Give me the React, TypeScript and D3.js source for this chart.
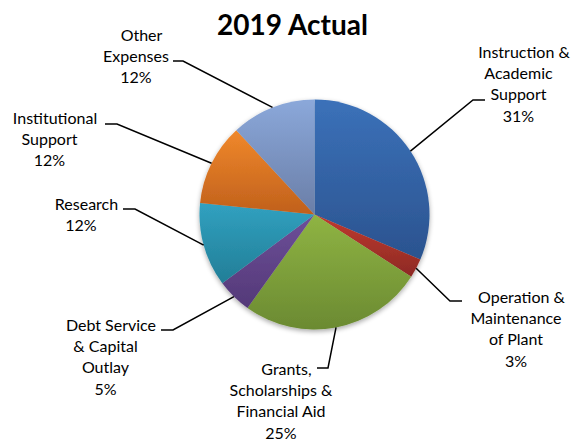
import React from "react";
import * as d3 from "d3";

const categories = [
  "Instruction & Academic Support",
  "Operation & Maintenance of Plant",
  "Grants, Scholarships & Financial Aid",
  "Debt Service & Capital Outlay",
  "Research",
  "Institutional Support",
  "Other Expenses",
];
const values = [31.4, 2.7, 25.8, 4.9, 11.8, 11.5, 11.9];
const labelLines = [
  ["Instruction &", "Academic", "Support", "31%"],
  ["Operation &", "Maintenance", "of Plant", "3%"],
  ["Grants,", "Scholarships &", "Financial Aid", "25%"],
  ["Debt Service", "& Capital", "Outlay", "5%"],
  ["Research", "12%"],
  ["Institutional", "Support", "12%"],
  ["Other", "Expenses", "12%"],
];
const topColors = ["#3b71b9", "#c0392f", "#8fb443", "#6d4f99", "#31a1c0", "#f0882b", "#8ba8da"];
const bottomColors = ["#2b538f", "#8d2a24", "#6b8a32", "#543978", "#227e97", "#c0601c", "#6a7ea7"];

// layout: elbow point, short horizontal end, text center x, first row center y
const layout = [
  { elbow: [473, 100], end: [485, 100], tx: 518.5, ty: 52 },
  { elbow: [450, 301], end: [462, 301], tx: 516, ty: 297 },
  { elbow: [328, 368], end: [317, 368], tx: 281, ty: 369 },
  { elbow: [173, 330], end: [161, 330], tx: 105.5, ty: 325 },
  { elbow: [135, 209], end: [123, 209], tx: 81, ty: 204 },
  { elbow: [117, 124], end: [105, 124], tx: 49.5, ty: 118 },
  { elbow: [183, 61], end: [173, 61], tx: 136, ty: 35 },
];

const W = 578;
const H = 441;
const cx = 314.5;
const cy = 214.5;
const R = 115;
const font = "Lato, 'Open Sans', sans-serif";

export default function App() {
  const pie = d3.pie<number>().sort(null).value((d) => d);
  const arcs = pie(values);
  const arcGen = d3.arc<d3.PieArcDatum<number>>().innerRadius(0).outerRadius(R);
  const edge = d3.arc<d3.PieArcDatum<number>>().innerRadius(R).outerRadius(R);
  const lineGen = d3.line();
  const rowH = 21.3;

  return (
    <svg width={W} height={H} style={{ position: "absolute", left: 0, top: 0, background: "#fff" }}>
      <defs>
        {categories.map((c, i) => (
          <linearGradient key={c} id={`g${i}`} x1="0" y1="0" x2="0" y2="1">
            <stop offset="0" stopColor={topColors[i]} />
            <stop offset="1" stopColor={bottomColors[i]} />
          </linearGradient>
        ))}
        <filter id="sh" x="-20%" y="-20%" width="140%" height="140%">
          <feGaussianBlur in="SourceAlpha" stdDeviation="2.5" />
          <feOffset dx="0" dy="2" result="b" />
          <feComponentTransfer>
            <feFuncA type="linear" slope="0.35" />
          </feComponentTransfer>
          <feMerge>
            <feMergeNode />
            <feMergeNode in="SourceGraphic" />
          </feMerge>
        </filter>
      </defs>
      <text x={292.5} y={35} textAnchor="middle" fontFamily={font} fontWeight="bold" fontSize={28} fill="#000">
        2019 Actual
      </text>
      <g transform={`translate(${cx},${cy})`} filter="url(#sh)">
        {arcs.map((a, i) => (
          <path key={i} d={arcGen(a) || ""} fill={`url(#g${i})`} />
        ))}
      </g>
      {arcs.map((a, i) => {
        const [ex, ey] = edge.centroid(a);
        const L = layout[i];
        const pts: [number, number][] = [
          [cx + ex, cy + ey],
          L.elbow as [number, number],
          L.end as [number, number],
        ];
        return <path key={i} d={lineGen(pts) || ""} fill="none" stroke="#000" strokeWidth={1.5} />;
      })}
      {labelLines.map((lines, i) => (
        <text key={i} textAnchor="middle" fontFamily={font} fontSize={16} fill="#000">
          {lines.map((s, j) => (
            <tspan key={j} x={layout[i].tx + (j === 0 ? 5.5 : 0)} y={layout[i].ty + j * rowH} dy="0.35em">
              {s}
            </tspan>
          ))}
        </text>
      ))}
    </svg>
  );
}
